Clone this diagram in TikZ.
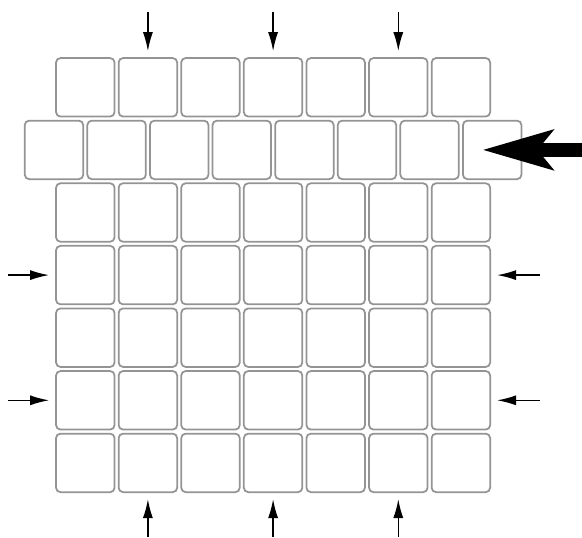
\documentclass[tikz,border=0pt]{standalone}
\usetikzlibrary{arrows.meta}
\tikzset{
  cell/.style={draw=black!42,line width=1pt,rounded corners=2.5pt,minimum size=1.17cm,inner sep=0pt},
  push/.style={-{Latex[length=3.8mm,width=2mm]},line width=0.9pt,shorten >=0.12cm},
  bigpush/.style={-{Stealth[length=14mm,width=7.8mm,inset=3mm]},line width=0.28cm,shorten >=-0.2cm}
}
\begin{document}
\begin{tikzpicture}[x=0.02cm,y=-0.02cm]
\useasboundingbox (0,0) rectangle (582,538);
\foreach \i in {1,3,4,5,6,7}
  \foreach \j in {1,...,7}
    \node[cell] (a-\i-\j) at (22.7+62.6*\j,24.7+62.6*\i) {};
\foreach \k in {1,...,8}
  \node[cell] (b-\k) at (-8.6+62.6*\k,149.9) {};
\foreach \j in {2,4,6} {
  \coordinate (t-\j) at (22.7+62.6*\j,12);
  \coordinate (u-\j) at (22.7+62.6*\j,537);
  \draw[push] (t-\j) -- (a-1-\j);
  \draw[push] (u-\j) -- (a-7-\j);
}
\foreach \i in {4,6} {
  \coordinate (l-\i) at (8,24.7+62.6*\i);
  \coordinate (r-\i) at (540,24.7+62.6*\i);
  \draw[push] (l-\i) -- (a-\i-1);
  \draw[push] (r-\i) -- (a-\i-7);
}
\coordinate (big) at (582,149.9);
\draw[bigpush] (big) -- (b-8.center);
\end{tikzpicture}
\end{document}
